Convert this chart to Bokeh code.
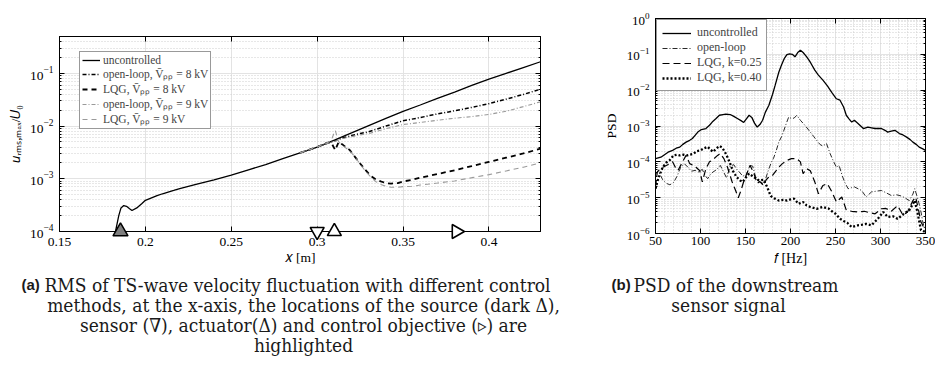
import math
from bokeh.plotting import figure
from bokeh.layouts import row, column
from bokeh.models import FixedTicker, LogAxis, LinearAxis, Legend, LegendItem, Label
from bokeh.embed import file_html
from bokeh.resources import INLINE

SERIF = "Liberation Serif"

# ---------------- data (a): RMS of TS-wave velocity fluctuation ----------------
x_unc = [0.1826, 0.1835, 0.1845, 0.1858, 0.1874, 0.189, 0.1908, 0.1922, 0.195, 0.198,
         0.2, 0.2068, 0.21, 0.2165, 0.22, 0.23, 0.24, 0.25, 0.26, 0.27,
         0.28, 0.29, 0.3, 0.31, 0.32, 0.33, 0.34, 0.35, 0.36, 0.37,
         0.38, 0.39, 0.4, 0.41, 0.42, 0.43]
y_unc = [1.0e-4, 1.4e-4, 2.0e-4, 2.8e-4, 3.1e-4, 3.0e-4, 2.7e-4, 2.5e-4, 2.8e-4, 3.4e-4,
         3.9e-4, 4.8e-4, 5.2e-4, 6.0e-4, 6.5e-4, 7.9e-4, 9.5e-4, 1.17e-3, 1.48e-3, 1.86e-3,
         2.4e-3, 3.1e-3, 4.0e-3, 5.4e-3, 7.4e-3, 1.02e-2, 1.40e-2, 1.90e-2, 2.51e-2, 3.35e-2,
         4.42e-2, 5.89e-2, 7.76e-2, 0.100, 0.129, 0.166]

x_ol = [0.29, 0.3, 0.305, 0.31, 0.315, 0.32, 0.325, 0.33, 0.34, 0.35,
        0.36, 0.37, 0.38, 0.39, 0.4, 0.41, 0.42, 0.43]
y_ol8 = [3.1e-3, 4.0e-3, 4.6e-3, 5.2e-3, 6.0e-3, 6.6e-3, 7.2e-3, 7.8e-3, 1.0e-2, 1.26e-2,
         1.45e-2, 1.70e-2, 1.95e-2, 2.26e-2, 2.66e-2, 3.24e-2, 3.98e-2, 5.0e-2]
y_ol9 = [3.1e-3, 4.0e-3, 4.6e-3, 5.1e-3, 5.8e-3, 6.3e-3, 6.8e-3, 7.2e-3, 8.9e-3, 1.07e-2,
         1.17e-2, 1.29e-2, 1.41e-2, 1.51e-2, 1.66e-2, 1.91e-2, 2.34e-2, 2.88e-2]

x_lqg = [0.29, 0.3, 0.305, 0.308, 0.3105, 0.3125, 0.315, 0.319, 0.322, 0.325,
         0.328, 0.331, 0.334, 0.337, 0.34, 0.343, 0.347, 0.35, 0.355, 0.36,
         0.37, 0.38, 0.39, 0.4, 0.41, 0.42, 0.43]
y_lqg8 = [3.1e-3, 4.0e-3, 4.7e-3, 5.0e-3, 3.5e-3, 5.0e-3, 4.4e-3, 3.5e-3, 2.6e-3, 1.95e-3,
          1.48e-3, 1.15e-3, 9.8e-4, 8.9e-4, 8.3e-4, 8.1e-4, 8.3e-4, 8.9e-4, 9.5e-4, 1.05e-3,
          1.23e-3, 1.45e-3, 1.74e-3, 2.09e-3, 2.51e-3, 3.02e-3, 3.72e-3]
y_lqg9 = [3.1e-3, 4.0e-3, 4.7e-3, 5.2e-3, 8.3e-3, 5.0e-3, 4.2e-3, 3.4e-3, 2.6e-3, 1.9e-3,
          1.41e-3, 1.10e-3, 8.9e-4, 7.8e-4, 7.2e-4, 6.9e-4, 6.9e-4, 7.1e-4, 7.2e-4, 7.6e-4,
          8.3e-4, 9.1e-4, 1.05e-3, 1.20e-3, 1.41e-3, 1.66e-3, 2.0e-3]

# positions on the x-axis: source, sensor, actuator, control objective
x_source = [0.1855]
x_sensor = [0.300]
x_actuator = [0.310]
x_objective = [0.381]

ticks_a_x = [0.15, 0.2, 0.25, 0.3, 0.35, 0.4]
ticks_a_y = [1e-4, 1e-3, 1e-2, 1e-1]

# ---------------- data (b): PSD of the downstream sensor signal ----------------
f_unc = [50, 56, 60, 64, 69, 73, 77, 80, 84, 88, 91, 94, 97, 101, 106, 110, 113, 117, 121, 125,
         128, 133, 137, 141, 145, 148, 151, 154, 157, 160, 163, 166, 169, 172, 176, 180, 183, 187,
         190, 193, 196, 199, 202, 205, 208, 211, 214, 218, 222, 227, 231, 236, 241, 246, 251, 255,
         259, 262, 265, 268, 271, 275, 281, 286, 290, 294, 301, 305, 308, 312, 316, 321, 325, 329,
         333, 336, 340, 343, 347, 350]
lg_unc = [-3.91, -3.87, -3.80, -3.73, -3.68, -3.62, -3.59, -3.52, -3.45, -3.40, -3.35, -3.26, -3.17,
          -3.10, -3.07, -2.98, -2.89, -2.80, -2.70, -2.68, -2.67, -2.68, -2.73, -2.79, -2.85, -2.90,
          -2.80, -2.70, -2.76, -2.92, -3.03, -2.96, -2.84, -2.62, -2.42, -2.12, -1.86, -1.50, -1.30,
          -1.12, -1.01, -0.99, -1.00, -1.07, -0.95, -0.885, -0.95, -1.07, -1.22, -1.44, -1.58, -1.72,
          -1.88, -2.07, -2.24, -2.28, -2.47, -2.70, -2.80, -2.89, -2.84, -2.93, -3.07, -3.03, -3.05,
          -3.07, -3.07, -3.12, -3.17, -3.14, -3.12, -3.21, -3.25, -3.31, -3.38, -3.45, -3.52, -3.59,
          -3.64, -3.68]

f_ol = [50, 53, 58, 62, 66, 70, 74, 78, 82, 86, 90, 94, 98, 102, 105, 108, 111, 114, 118, 122,
        126, 129, 133, 137, 140, 143, 147, 151, 155, 158, 161, 165, 169, 172, 176, 179, 181, 184,
        187, 190, 192, 195, 198, 201, 204, 207, 211, 216, 222, 226, 229, 233, 236, 240, 244, 248,
        251, 254, 257, 260, 264, 268, 271, 275, 279, 284, 290, 295, 301, 306, 312, 318, 324, 332,
        336, 338, 342, 345, 347, 350]
lg_ol = [-4.35, -4.25, -4.50, -4.60, -4.64, -4.58, -4.40, -4.15, -4.05, -4.15, -4.26, -4.24, -4.28,
         -4.21, -4.38, -4.47, -4.35, -4.28, -4.22, -4.10, -4.30, -4.45, -4.12, -4.08, -4.20, -4.28,
         -4.40, -4.35, -4.10, -4.12, -4.40, -4.55, -4.60, -4.50, -4.19, -4.00, -3.91, -3.70, -3.45,
         -3.30, -3.17, -2.95, -2.75, -2.79, -2.78, -2.70, -2.84, -2.98, -3.17, -3.30, -3.40, -3.52,
         -3.56, -3.49, -3.77, -4.00, -4.15, -4.10, -4.35, -4.56, -4.75, -4.72, -4.70, -4.75, -4.80,
         -4.98, -4.84, -4.82, -4.80, -4.86, -4.94, -4.92, -4.96, -5.08, -4.90, -4.75, -5.08, -5.40,
         -5.68, -5.96]

f_k25 = [50, 52, 56, 62, 66, 69, 72, 75, 79, 84, 88, 92, 95, 99, 102, 106, 110, 113, 119, 122,
         126, 130, 135, 139, 142, 145, 148, 152, 155, 159, 163, 166, 170, 173, 176, 180, 183, 187,
         191, 196, 201, 207, 211, 214, 218, 222, 227, 231, 236, 241, 246, 251, 254, 257, 262, 268,
         275, 282, 288, 294, 301, 306, 312, 319, 325, 330, 336, 339, 342, 345, 349, 350]
lg_k25 = [-4.70, -4.28, -4.18, -4.10, -4.05, -4.00, -4.15, -4.24, -4.05, -3.82, -4.05, -4.10, -4.15,
          -4.24, -4.56, -4.19, -4.00, -3.96, -3.82, -3.77, -3.91, -4.15, -4.55, -4.80, -5.00, -4.80,
          -4.55, -4.30, -4.10, -4.30, -4.60, -4.55, -4.66, -4.50, -4.42, -4.38, -4.28, -4.15, -4.05,
          -3.96, -3.91, -3.91, -4.00, -4.33, -4.19, -4.25, -4.56, -4.89, -4.66, -4.61, -4.84, -5.12,
          -5.05, -4.98, -5.35, -5.38, -5.40, -5.38, -5.42, -5.45, -5.31, -5.30, -5.38, -5.22, -5.49,
          -5.40, -5.08, -4.98, -5.31, -5.68, -5.87, -5.80]

f_k40 = [50, 53, 58, 62, 66, 70, 74, 77, 81, 85, 88, 92, 96, 100, 104, 108, 111, 114, 118, 121,
         124, 127, 130, 133, 136, 140, 144, 147, 150, 154, 159, 165, 170, 174, 178, 182, 187, 192,
         196, 200, 204, 209, 214, 218, 222, 229, 236, 242, 246, 250, 255, 259, 263, 268, 275, 280,
         284, 290, 297, 303, 308, 314, 319, 326, 332, 338, 341, 345, 350]
lg_k40 = [-4.75, -4.47, -4.15, -4.02, -3.95, -3.82, -3.80, -3.82, -3.80, -3.82, -3.80, -3.78, -3.70,
          -3.68, -3.62, -3.58, -3.66, -3.72, -3.62, -3.56, -3.60, -3.72, -3.87, -4.05, -4.25, -4.42,
          -4.52, -4.56, -4.45, -4.33, -4.42, -4.52, -4.50, -4.70, -4.95, -5.02, -5.08, -5.06, -5.08,
          -5.05, -5.03, -5.17, -5.12, -5.22, -5.26, -5.31, -5.26, -5.30, -5.38, -5.45, -5.59, -5.65,
          -5.70, -5.82, -5.77, -5.75, -5.73, -5.77, -5.59, -5.40, -5.54, -5.52, -5.59, -5.45, -5.35,
          -5.08, -5.40, -5.91, -5.96]

ticks_b_x = [50, 100, 150, 200, 250, 300, 350]
ticks_b_y = [1e-6, 1e-5, 1e-4, 1e-3, 1e-2, 1e-1, 1e0]

for a, b in [(x_unc, y_unc), (x_ol, y_ol8), (x_ol, y_ol9), (x_lqg, y_lqg8), (x_lqg, y_lqg9),
             (f_unc, lg_unc), (f_ol, lg_ol), (f_k25, lg_k25), (f_k40, lg_k40)]:
    assert len(a) == len(b)


def to_lin(lg):
    return [10.0 ** v for v in lg]


def log_minor(decades):
    return [k * 10.0 ** e for e in decades for k in range(2, 10)]


GRID = "#e3e3e3"
MINOR = "#cfcfcf"
TOP_H = 270  # height of the row holding the two plots; captions below


def style_axis(ax, labels=True, size="13px", standoff=7):
    ax.axis_line_color = "black"
    ax.axis_line_width = 1
    ax.major_tick_in = 5
    ax.major_tick_out = 0
    ax.minor_tick_in = 2
    ax.minor_tick_out = 0
    ax.major_tick_line_color = "black"
    ax.minor_tick_line_color = "black"
    ax.major_label_text_font = SERIF
    ax.major_label_standoff = standoff
    ax.axis_label_text_font = SERIF
    ax.axis_label_text_font_style = "normal"
    ax.axis_label_text_color = "black"
    if labels:
        ax.major_label_text_font_size = size
        ax.major_label_text_color = "black"
    else:
        ax.major_label_text_font_size = "5px"
        ax.major_label_text_alpha = 0.0
        ax.major_label_standoff = 0


# ======================= figure (a) =======================
pa = figure(width=600, height=TOP_H, x_range=(0.15, 0.43), y_range=(1e-4, 0.5),
            y_axis_type="log", output_backend="svg", toolbar_location=None,
            min_border_left=59, min_border_right=60, min_border_top=36,
            min_border_bottom=TOP_H - 231,
            background_fill_color="white", border_fill_color="white")
pa.frame_align = False
pa.outline_line_color = "black"

txa = FixedTicker(ticks=ticks_a_x)
tya = FixedTicker(ticks=ticks_a_y, minor_ticks=log_minor([-4, -3, -2, -1]))
pa.xaxis.ticker = txa
pa.yaxis.ticker = tya
style_axis(pa.xaxis[0], size="13.5px", standoff=6)
style_axis(pa.yaxis[0], size="13.5px", standoff=6)
pa.xaxis.axis_label = "𝑥 [m]"
pa.xaxis.axis_label_text_font_size = "13.5px"
pa.xaxis.axis_label_standoff = 1
pa.yaxis.axis_label = "𝑢ᵣₘₛ,ₘₐₓ/𝑈₀"
pa.yaxis.axis_label_text_font_size = "13px"
pa.yaxis.axis_label_standoff = 4

ax_top = LinearAxis(ticker=txa)
style_axis(ax_top, labels=False)
pa.add_layout(ax_top, "above")
ax_right = LogAxis(ticker=tya)
style_axis(ax_right, labels=False)
pa.add_layout(ax_right, "right")

pa.xgrid.grid_line_color = GRID
pa.ygrid.grid_line_color = GRID
pa.ygrid.minor_grid_line_color = MINOR
pa.ygrid.minor_grid_line_dash = "1 2"

r_unc = pa.line(x_unc, y_unc, line_color="black", line_width=1.3)
r_ol8 = pa.line(x_ol, y_ol8, line_color="black", line_width=1.5, line_dash="4 2 1 2")
r_lqg8 = pa.line(x_lqg, y_lqg8, line_color="black", line_width=1.8, line_dash="5 4")
r_ol9 = pa.line(x_ol, y_ol9, line_color="#9a9a9a", line_width=1.1, line_dash="4 2 1 2")
r_lqg9 = pa.line(x_lqg, y_lqg9, line_color="#9a9a9a", line_width=1.1, line_dash="5 4")

y_axis_pos = [1e-4]
pa.scatter(x_source, y_axis_pos, marker="triangle", size=15, fill_color="#7f7f7f",
           line_color="black", line_width=1.5, level="overlay")
pa.scatter(x_sensor, y_axis_pos, marker="inverted_triangle", size=14, fill_color="white",
           line_color="black", line_width=1.6, level="overlay")
pa.scatter(x_actuator, y_axis_pos, marker="triangle", size=14, fill_color="white",
           line_color="black", line_width=1.6, level="overlay")
pa.scatter(x_objective, y_axis_pos, marker="triangle", angle=-math.pi / 2, size=14,
           fill_color="white", line_color="black", line_width=1.6, level="overlay")

sub = "V\u0304\u209a\u209a"
leg_a = Legend(items=[
    LegendItem(label="uncontrolled", renderers=[r_unc]),
    LegendItem(label="open-loop, " + sub + " = 8 kV", renderers=[r_ol8]),
    LegendItem(label="LQG, " + sub + " = 8 kV", renderers=[r_lqg8]),
    LegendItem(label="open-loop, " + sub + " = 9 kV", renderers=[r_ol9]),
    LegendItem(label="LQG, " + sub + " = 9 kV", renderers=[r_lqg9]),
], location=(20, 102))
leg_a.label_text_font = SERIF
leg_a.label_text_font_size = "11.5px"
leg_a.label_text_line_height = 0.9
leg_a.glyph_width = 18
leg_a.glyph_height = 12
leg_a.label_height = 12
leg_a.label_standoff = 3
leg_a.spacing = 0
leg_a.padding = 2
leg_a.margin = 0
leg_a.border_line_color = "#333333"
leg_a.border_line_width = 1
leg_a.background_fill_alpha = 1
pa.add_layout(leg_a)

# ======================= figure (b) =======================
pb = figure(width=335, height=TOP_H, x_range=(50, 350), y_range=(1e-6, 1.0),
            y_axis_type="log", output_backend="svg", toolbar_location=None,
            min_border_left=53, min_border_right=10, min_border_top=18,
            min_border_bottom=TOP_H - 233,
            background_fill_color="white", border_fill_color="white")
pb.frame_align = False
pb.outline_line_color = "black"

txb = FixedTicker(ticks=ticks_b_x, minor_ticks=list(range(50, 351, 10)))
tyb = FixedTicker(ticks=ticks_b_y, minor_ticks=log_minor([-6, -5, -4, -3, -2, -1]))
pb.xaxis.ticker = txb
pb.yaxis.ticker = tyb
style_axis(pb.xaxis[0], size="13px", standoff=3)
style_axis(pb.yaxis[0], size="13px", standoff=6)
pb.xaxis[0].minor_tick_in = 0
pb.xaxis.axis_label = "𝑓 [Hz]"
pb.xaxis.axis_label_text_font_size = "14px"
pb.xaxis.axis_label_standoff = 3
pb.yaxis.axis_label = "PSD"
pb.yaxis.axis_label_text_font_size = "13.5px"
pb.yaxis.axis_label_standoff = 5

bx_top = LinearAxis(ticker=txb)
style_axis(bx_top, labels=False)
bx_top.minor_tick_in = 0
pb.add_layout(bx_top, "above")
bx_right = LogAxis(ticker=tyb)
style_axis(bx_right, labels=False)
pb.add_layout(bx_right, "right")

pb.xgrid.grid_line_color = GRID
pb.ygrid.grid_line_color = GRID
pb.xgrid.minor_grid_line_color = MINOR
pb.xgrid.minor_grid_line_dash = "1 2"
pb.ygrid.minor_grid_line_color = MINOR
pb.ygrid.minor_grid_line_dash = "1 2"

b_unc = pb.line(f_unc, to_lin(lg_unc), line_color="black", line_width=1.3)
b_ol = pb.line(f_ol, to_lin(lg_ol), line_color="#111111", line_width=0.9, line_dash="5 2 1 2")
b_k25 = pb.line(f_k25, to_lin(lg_k25), line_color="black", line_width=1.2, line_dash="7 4")
b_k40 = pb.line(f_k40, to_lin(lg_k40), line_color="black", line_width=2.3, line_dash="2 2")

leg_b = Legend(items=[
    LegendItem(label="uncontrolled", renderers=[b_unc]),
    LegendItem(label="open-loop", renderers=[b_ol]),
    LegendItem(label="LQG, k=0.25", renderers=[b_k25]),
    LegendItem(label="LQG, k=0.40", renderers=[b_k40]),
], location="top_left")
leg_b.label_text_font = SERIF
leg_b.label_text_font_size = "12px"
leg_b.glyph_width = 29
leg_b.glyph_height = 12
leg_b.label_height = 12
leg_b.label_standoff = 6
leg_b.spacing = 0
leg_b.padding = 5
leg_b.margin = 1
leg_b.border_line_color = "#333333"
leg_b.border_line_width = 1
leg_b.background_fill_alpha = 1
pb.add_layout(leg_b)

# ======================= captions (separate canvas under the plots) =======================
CAP_H = 387 - TOP_H
pc = figure(width=935, height=CAP_H, x_range=(0, 1), y_range=(0, 1),
            output_backend="svg", toolbar_location=None, min_border=0,
            x_axis_location=None, y_axis_location=None,
            background_fill_color="white", border_fill_color="white")
pc.frame_align = False
pc.outline_line_color = None
pc.xgrid.visible = False
pc.ygrid.visible = False

CAP_FONT = "DejaVu Serif Condensed"
CAP_SIZE = "19px"


def cap(x, y, text, align="left", font=CAP_FONT, size=CAP_SIZE, style="normal"):
    # x, y: page pixels from the top-left corner of the whole picture
    pc.add_layout(Label(x=x, y=387 - y, x_units="screen", y_units="screen",
                        text=text, text_font=font, text_font_size=size,
                        text_font_style=style, text_align=align, text_baseline="middle",
                        text_color="#1a1a1a"))


cap(21, 284, "(a)", font="Liberation Sans", size="15px", style="bold")
cap(44, 284, "RMS of TS-wave velocity fluctuation with different control")
cap(303, 304, "methods, at the x-axis, the locations of the source (dark Δ),", align="center")
cap(303, 324, "sensor (∇), actuator(Δ) and control objective (▹) are", align="center")
cap(303, 344, "highlighted", align="center")
cap(611, 284, "(b)", font="Liberation Sans", size="15px", style="bold")
cap(633, 284, "PSD of the downstream")
cap(728, 304, "sensor signal", align="center")

layout = column(row(pa, pb), pc)
open("out.html", "w").write(file_html(layout, INLINE))
